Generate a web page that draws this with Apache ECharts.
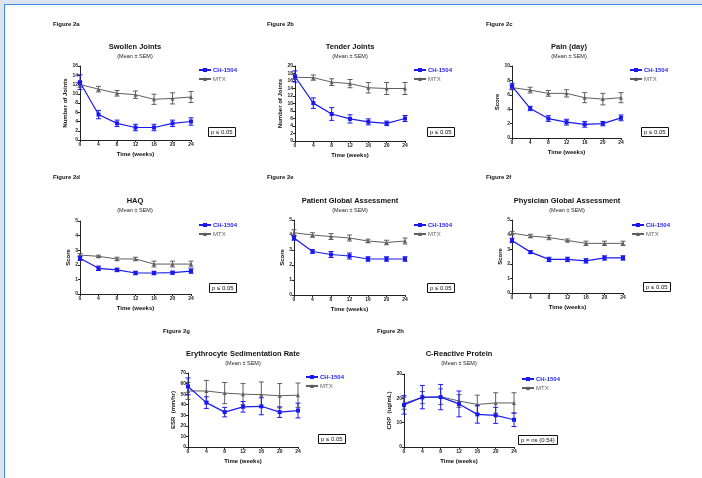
<!DOCTYPE html>
<html><head><meta charset="utf-8">
<script src="https://cdn.jsdelivr.net/npm/echarts@6/dist/echarts.min.js"></script>
<style>
html,body{margin:0;padding:0;width:702px;height:478px;background:#dfe3f1;overflow:hidden}
#frame{position:absolute;left:4px;top:4px;width:698px;height:474px;background:#fff;border-left:1px solid #3b8ede;border-top:1px solid #3b8ede;box-sizing:border-box}
#chart{position:absolute;left:0;top:0;width:702px;height:478px}
</style></head>
<body><div id="frame"></div><div id="chart"></div>
<script>
// ---- data ----
var weeks = [0, 4, 8, 12, 16, 20, 24];
var seriesNames = ['CH-1504', 'MTX'];

var swollenCH    = [12.5, 5.5, 3.6, 2.7, 2.7, 3.6, 4.0];
var swollenCHse  = [1.6, 0.9, 0.7, 0.7, 0.7, 0.7, 0.8];
var swollenMTX   = [12.0, 11.0, 10.1, 9.8, 8.8, 9.0, 9.3];
var swollenMTXse = [0.6, 0.6, 0.6, 0.8, 1.1, 1.2, 1.2];

var tenderCH    = [17.2, 10.1, 7.2, 5.9, 5.1, 4.7, 6.0];
var tenderCHse  = [1.5, 1.4, 1.7, 1.1, 0.8, 0.6, 0.8];
var tenderMTX   = [17.0, 16.9, 15.7, 15.3, 14.2, 14.0, 14.0];
var tenderMTXse = [0.6, 0.7, 0.9, 1.1, 1.4, 1.6, 1.6];

var painCH    = [7.2, 4.1, 2.7, 2.2, 1.9, 2.0, 2.8];
var painCHse  = [0.4, 0.3, 0.4, 0.4, 0.4, 0.3, 0.4];
var painMTX   = [7.0, 6.65, 6.2, 6.2, 5.6, 5.4, 5.6];
var painMTXse = [0.3, 0.4, 0.4, 0.5, 0.7, 0.8, 0.7];

var haqCH    = [2.45, 1.76, 1.65, 1.44, 1.44, 1.46, 1.57];
var haqCHse  = [0.15, 0.15, 0.12, 0.12, 0.12, 0.1, 0.15];
var haqMTX   = [2.67, 2.58, 2.4, 2.4, 2.05, 2.05, 2.05];
var haqMTXse = [0.1, 0.08, 0.12, 0.12, 0.2, 0.2, 0.2];

var patCH    = [3.8, 2.9, 2.7, 2.6, 2.4, 2.4, 2.4];
var patCHse  = [0.15, 0.12, 0.2, 0.2, 0.15, 0.15, 0.15];
var patMTX   = [4.15, 4.0, 3.9, 3.8, 3.6, 3.5, 3.6];
var patMTXse = [0.2, 0.15, 0.2, 0.2, 0.12, 0.15, 0.2];

var phyCH    = [3.6, 2.8, 2.3, 2.3, 2.2, 2.4, 2.4];
var phyCHse  = [0.15, 0.1, 0.15, 0.15, 0.15, 0.15, 0.15];
var phyMTX   = [4.1, 3.9, 3.8, 3.6, 3.4, 3.4, 3.4];
var phyMTXse = [0.12, 0.12, 0.15, 0.1, 0.15, 0.15, 0.15];

var esrCH    = [57.3, 42, 33, 38, 38.5, 33, 34.5];
var esrCHse  = [8, 5.5, 4.5, 5, 8, 5, 7];
var esrMTX   = [53, 53, 51, 50, 49.5, 48.5, 49];
var esrMTXse = [8, 10, 10, 10, 12, 11.5, 11.5];

var crpCH    = [17.3, 20.5, 20.5, 17.7, 13.4, 13.0, 11.2];
var crpCHse  = [3.8, 4.8, 5.2, 5.3, 3.6, 3.3, 2.8];
var crpMTX   = [18.0, 20.3, 20.7, 18.9, 17.5, 18.1, 18.1];
var crpMTXse = [2.5, 2.5, 3.2, 2.6, 3.8, 4.2, 4.2];

var figLabels = ['Figure 2a','Figure 2b','Figure 2c','Figure 2d','Figure 2e','Figure 2f','Figure 2g','Figure 2h'];
var titles = ['Swollen Joints','Tender Joints','Pain (day)','HAQ','Patient Global Assessment','Physician Global Assessment','Erythrocyte Sedimentation Rate','C-Reactive Protein'];
var subtitle = '(Mean \u00b1 SEM)';
var yNames = ['Number of Joints','Number of Joints','Score','Score','Score','Score','ESR  (mm/hr)','CRP  (ug/mL)'];
var xName = 'Time (weeks)';
var yMax = [16, 20, 10, 5, 5, 5, 70, 30];
var yStep = [2, 2, 2, 1, 1, 1, 10, 10];
var pTexts = ['p \u2264 0.05','p \u2264 0.05','p \u2264 0.05','p \u2264 0.05','p \u2264 0.05','p \u2264 0.05','p \u2264 0.05','p = ns (0.54)'];
var chData = [swollenCH, tenderCH, painCH, haqCH, patCH, phyCH, esrCH, crpCH];
var chSe = [swollenCHse, tenderCHse, painCHse, haqCHse, patCHse, phyCHse, esrCHse, crpCHse];
var mtxData = [swollenMTX, tenderMTX, painMTX, haqMTX, patMTX, phyMTX, esrMTX, crpMTX];
var mtxSe = [swollenMTXse, tenderMTXse, painMTXse, haqMTXse, patMTXse, phyMTXse, esrMTXse, crpMTXse];

// ---- layout (pixels) ----
var layout = [
  {l:80,  t:66,  w:111, h:74, fx:53,  fy:21, tx:135, ty:43, lx:198, ly:67, px:208, py:127, yg:12},
  {l:295, t:66,  w:110, h:75, fx:267, fy:21, tx:350, ty:43, lx:413, ly:67, px:427, py:127, yg:12},
  {l:512, t:66,  w:109, h:72, fx:486, fy:21, tx:569, ty:43, lx:629, ly:67, px:641, py:127, yg:9},
  {l:80,  t:221, w:111, h:73, fx:53,  fy:174, tx:135, ty:197, lx:198, ly:222, px:209, py:283, yg:9},
  {l:294, t:220, w:111, h:75, fx:267, fy:174, tx:350, ty:197, lx:413, ly:222, px:427, py:283, yg:9},
  {l:512, t:220, w:111, h:73, fx:486, fy:174, tx:567, ty:197, lx:631, ly:222, px:643, py:282, yg:9},
  {l:188, t:373, w:110, h:74, fx:163, fy:328, tx:243, ty:350, lx:305, ly:374, px:318, py:434, yg:11},
  {l:404, t:374, w:110, h:73, fx:377, fy:328, tx:459, ty:350, lx:521, ly:376, px:518, py:435, yg:11}
];

var BLUE = '#1a1af0', GRAY = '#5f5f5f';
var FONT = 'Liberation Sans, Arial, sans-serif';

function errRender(color){
  return function(params, api){
    var x = api.value(0), lo = api.value(1), hi = api.value(2);
    var a = api.coord([x, lo]), b = api.coord([x, hi]);
    var c = 2.5;
    var st = {stroke: color, lineWidth: 1};
    return {type:'group', children:[
      {type:'line', shape:{x1:a[0], y1:a[1], x2:b[0], y2:b[1]}, style:st},
      {type:'line', shape:{x1:a[0]-c, y1:a[1], x2:a[0]+c, y2:a[1]}, style:st},
      {type:'line', shape:{x1:b[0]-c, y1:b[1], x2:b[0]+c, y2:b[1]}, style:st}
    ]};
  };
}

var option = {animation:false, textStyle:{fontFamily:FONT}, grid:[], xAxis:[], yAxis:[], series:[], title:[], legend:[]};

layout.forEach(function(L, i){
  option.grid.push({left:L.l, top:L.t, width:L.w, height:L.h, containLabel:false});
  option.xAxis.push({gridIndex:i, type:'value', min:0, max:24, interval:4,
    name:xName, nameLocation:'middle', nameGap:11,
    nameTextStyle:{fontSize:6, fontWeight:'bold', color:'#111', fontFamily:FONT},
    axisLine:{lineStyle:{color:'#222', width:1}}, axisTick:{length:2, lineStyle:{color:'#222'}},
    axisLabel:{fontSize:5, fontWeight:'bold', color:'#222', margin:2, fontFamily:FONT}, splitLine:{show:false}});
  option.yAxis.push({gridIndex:i, type:'value', min:0, max:yMax[i], interval:yStep[i],
    name:yNames[i], nameLocation:'middle', nameGap:L.yg, nameRotate:90,
    nameTextStyle:{fontSize:6, fontWeight:'bold', color:'#111', fontFamily:FONT},
    axisLine:{show:true, lineStyle:{color:'#222', width:1}}, axisTick:{show:true, length:2, lineStyle:{color:'#222'}},
    axisLabel:{fontSize:5, fontWeight:'bold', color:'#222', margin:2, fontFamily:FONT}, splitLine:{show:false}});

  var mtxErr = weeks.map(function(w, k){ return [w, mtxData[i][k]-mtxSe[i][k], mtxData[i][k]+mtxSe[i][k]]; });
  var chErr = weeks.map(function(w, k){ return [w, chData[i][k]-chSe[i][k], chData[i][k]+chSe[i][k]]; });
  option.series.push({type:'custom', name:'MTX SEM', xAxisIndex:i, yAxisIndex:i, data:mtxErr, renderItem:errRender(GRAY), encode:{x:0, y:[1,2]}, z:2, silent:true});
  option.series.push({type:'line', name:'MTX', xAxisIndex:i, yAxisIndex:i,
    data:weeks.map(function(w,k){return [w, mtxData[i][k]];}),
    symbol:'triangle', symbolSize:4, showSymbol:true, lineStyle:{color:GRAY, width:1}, itemStyle:{color:GRAY}, z:3});
  option.series.push({type:'custom', name:'CH-1504 SEM', xAxisIndex:i, yAxisIndex:i, data:chErr, renderItem:errRender(BLUE), encode:{x:0, y:[1,2]}, z:4, silent:true});
  option.series.push({type:'line', name:'CH-1504', xAxisIndex:i, yAxisIndex:i,
    data:weeks.map(function(w,k){return [w, chData[i][k]];}),
    symbol:'rect', symbolSize:4, showSymbol:true, lineStyle:{color:BLUE, width:1.2}, itemStyle:{color:BLUE}, z:5});

  option.title.push({text:figLabels[i], left:L.fx, top:L.fy, padding:0,
    textStyle:{fontSize:6, fontWeight:'bold', color:'#111', fontFamily:FONT}});
  option.title.push({text:titles[i], subtext:subtitle, left:L.tx, top:L.ty, textAlign:'center', padding:0, itemGap:2,
    textStyle:{fontSize:7.5, fontWeight:'bold', color:'#111', fontFamily:FONT},
    subtextStyle:{fontSize:5.5, color:'#222', fontFamily:FONT}});
  option.title.push({text:pTexts[i], left:L.px, top:L.py, padding:[2,3,2,3], borderWidth:1, borderColor:'#111',
    textStyle:{fontSize:6, fontWeight:'normal', color:'#111', fontFamily:FONT}});
  option.legend.push({orient:'vertical', left:L.lx, top:L.ly, padding:0, itemGap:3, itemWidth:12, itemHeight:5,
    selectedMode:false,
    data:[{name:'CH-1504', textStyle:{color:BLUE, fontWeight:'bold'}}, {name:'MTX', textStyle:{color:GRAY}}],
    textStyle:{fontSize:6, fontFamily:FONT, padding:[0,0,0,-3]}});
});

var chart = echarts.init(document.getElementById('chart'), null, {renderer:'canvas'});
chart.setOption(option);
</script></body></html>
